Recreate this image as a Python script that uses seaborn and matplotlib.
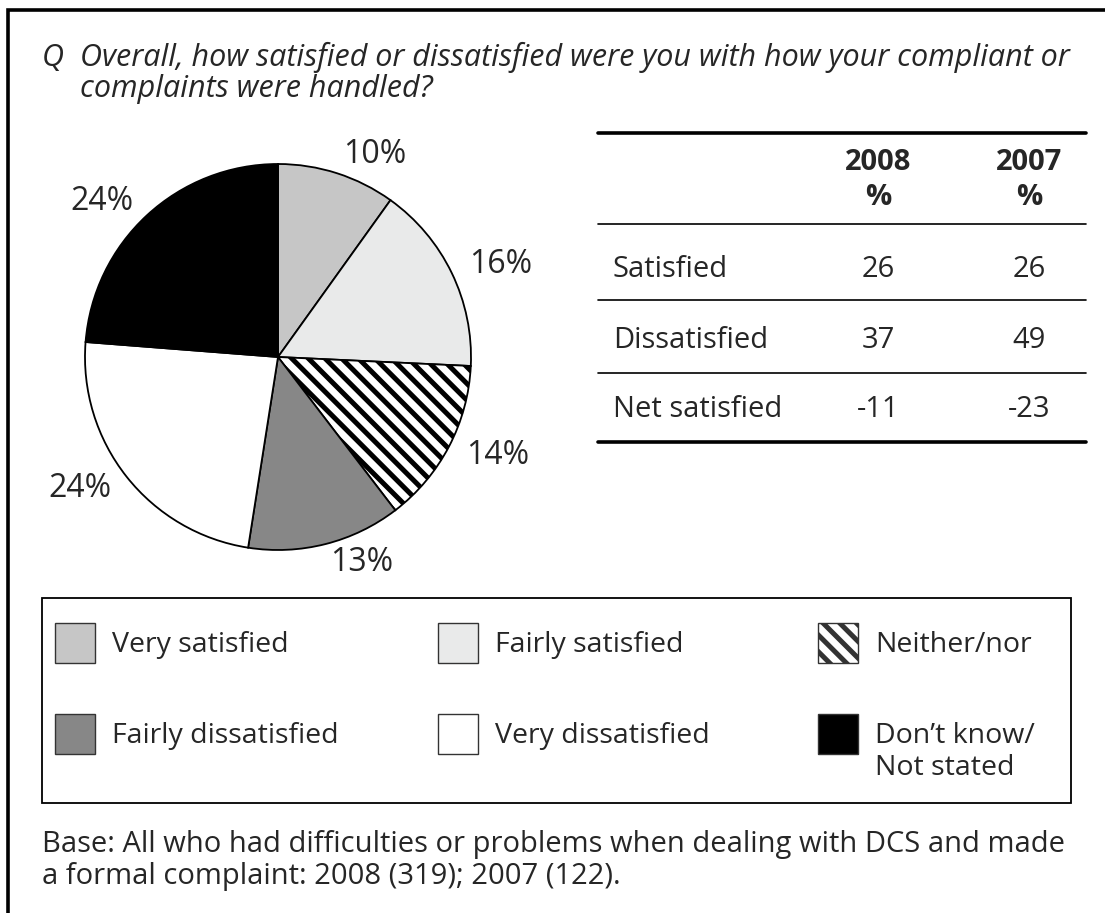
import matplotlib
matplotlib.use('Agg')
import matplotlib.pyplot as plt
import seaborn as sns
from matplotlib.patches import Rectangle

# pie data (clockwise from 12 o'clock)
categories = ['Very satisfied', 'Fairly satisfied', 'Neither/nor',
              'Fairly dissatisfied', 'Very dissatisfied', 'Don\u2019t know/\nNot stated']
shares = [10, 16, 14, 13, 24, 24]
colors = ['#c6c6c6', '#e9eaea', '#ffffff', '#878787', '#ffffff', '#000000']
hatches = [None, None, '\\\\', None, None, None]

# summary table
table_rows = ['Satisfied', 'Dissatisfied', 'Net satisfied']
table_years = ['2008', '2007']
vals_2008 = [26, 37, -11]
vals_2007 = [26, 49, -23]

question = ['Overall, how satisfied or dissatisfied were you with how your compliant or',
            'complaints were handled?']
base_note = ['Base: All who had difficulties or problems when dealing with DCS and made',
             'a formal complaint: 2008 (319); 2007 (122).']

sns.set_theme(style='white')
plt.rcParams['font.family'] = ['Open Sans', 'DejaVu Sans']
plt.rcParams['hatch.linewidth'] = 3.6
plt.rcParams['hatch.color'] = 'black'
fs = 21

W, H = 1105, 913
fig = plt.figure(figsize=(W / 100, H / 100), dpi=100)
fig.patch.set_facecolor('white')

# layout layer in pixel coordinates
lay = fig.add_axes([0, 0, 1, 1])
lay.set_xlim(0, W)
lay.set_ylim(H, 0)
lay.axis('off')

# outer frame (left + top only)
lay.plot([8, 8, W], [H, 10, 10], color='black', lw=2.6, solid_joinstyle='miter')

# question
lay.text(42, 66, 'Q', fontsize=22, style='italic', va='baseline')
lay.text(80, 66, question[0], fontsize=22, style='italic', va='baseline')
lay.text(80, 97, question[1], fontsize=22, style='italic', va='baseline')

# ---- pie ----
R = 193
cx, cy = 278, 357
ext = 1.25 * R
pax = fig.add_axes([(cx - ext) / W, 1 - (cy + ext) / H, 2 * ext / W, 2 * ext / H])
wedges, texts = pax.pie(shares, colors=colors, startangle=90, counterclock=False,
                        labels=[f'{v}%' for v in shares], labeldistance=1.1,
                        wedgeprops=dict(edgecolor='black', linewidth=1.3),
                        textprops=dict(fontsize=23))
for w, h in zip(wedges, hatches):
    if h:
        w.set_hatch(h)
for t in texts:
    t.set_va('center')
pax.set_aspect('equal')

# ---- table ----
tx0, tx1 = 598, 1086
col_x = [878, 1029]
lay.plot([tx0, tx1], [133, 133], color='black', lw=2.6)
for y in [224, 300, 373]:
    lay.plot([tx0, tx1], [y, y], color='black', lw=1.2)
lay.plot([tx0, tx1], [442, 442], color='black', lw=2.6)
for x, yr in zip(col_x, table_years):
    lay.text(x, 170, yr, fontsize=fs, fontweight='bold', ha='center', va='baseline')
    lay.text(x, 205, '%', fontsize=fs, fontweight='bold', ha='center', va='baseline')
row_base = [277, 348, 417]
for yb, lab, a, b in zip(row_base, table_rows, vals_2008, vals_2007):
    lay.text(613, yb, lab, fontsize=fs, va='baseline')
    lay.text(col_x[0], yb, str(a), fontsize=fs, ha='center', va='baseline')
    lay.text(col_x[1], yb, str(b), fontsize=fs, ha='center', va='baseline')

# ---- legend box ----
lay.add_patch(Rectangle((42, 598), 1029, 205, fill=False, edgecolor='black', lw=1.3))
leg_x = [55, 438, 818]
leg_y = [623, 714]
sq = 40
for i, (lab, c, h) in enumerate(zip(categories, colors, hatches)):
    x = leg_x[i % 3]
    y = leg_y[i // 3]
    lay.add_patch(Rectangle((x, y), sq, sq, facecolor=c, edgecolor='#333333',
                            lw=1.0, hatch=h))
    for k, line in enumerate(lab.split('\n')):
        lay.text(x + 57, y + 29 + 32 * k, line, fontsize=20.5, va='baseline')

# base note
lay.text(42, 852, base_note[0], fontsize=fs, va='baseline')
lay.text(42, 884, base_note[1], fontsize=fs, va='baseline')

fig.savefig('out.png', dpi=100, facecolor='white')
